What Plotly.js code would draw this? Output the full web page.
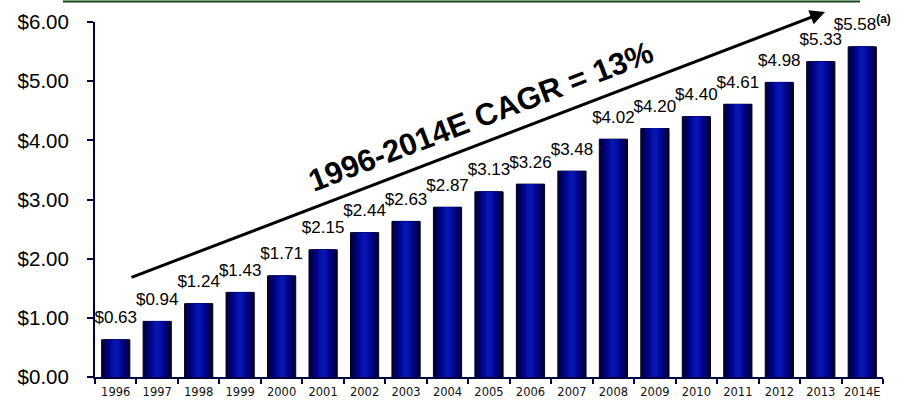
<!DOCTYPE html>
<html>
<head>
<meta charset="utf-8">
<script src="https://cdn.plot.ly/plotly-3.0.1.min.js"></script>
<style>html,body{margin:0;padding:0;background:#fff;}#chart{width:910px;height:404px;}</style>
</head>
<body>
<div id="chart"></div>
<script>
// ---- data ----
const years = ["1996","1997","1998","1999","2000","2001","2002","2003","2004","2005","2006","2007","2008","2009","2010","2011","2012","2013","2014E"];
const values = [0.63,0.94,1.24,1.43,1.71,2.15,2.44,2.63,2.87,3.13,3.26,3.48,4.02,4.20,4.40,4.61,4.98,5.33,5.58];
const valueLabels = ["$0.63","$0.94","$1.24","$1.43","$1.71","$2.15","$2.44","$2.63","$2.87","$3.13","$3.26","$3.48","$4.02","$4.20","$4.40","$4.61","$4.98","$5.33","$5.58<sup><b>(a)</b></sup>"];
const yTickVals = [0,1,2,3,4,5,6];
const yTickText = ["$0.00","$1.00","$2.00","$3.00","$4.00","$5.00","$6.00"];
const cagrText = "1996-2014E CAGR = 13%";

// gradient layers for the bars (outer dark -> inner bright)
const layers = [
  {w:0.68, c:"#00002e"},
  {w:0.62, c:"#000044"},
  {w:0.55, c:"#00005a"},
  {w:0.47, c:"#000070"},
  {w:0.39, c:"#000484"},
  {w:0.30, c:"#000896"},
  {w:0.20, c:"#0410a6"},
  {w:0.10, c:"#0816b0"}
];

const traces = layers.map((L, i) => ({
  type: "bar",
  x: years,
  y: values,
  width: L.w,
  marker: {color: L.c, line: {color: i === 0 ? "#000020" : L.c, width: i === 0 ? 1 : 0}},
  hoverinfo: "skip",
  showlegend: false
}));

traces.push({
  type: "scatter",
  mode: "markers+text",
  x: years,
  y: values,
  text: valueLabels,
  textposition: "top center",
  textfont: {family: "Liberation Sans Narrow, Arial Narrow, Liberation Sans, Arial, sans-serif", size: 17, color: "#000"},
  marker: {size: 18, opacity: 0},
  cliponaxis: false,
  hoverinfo: "skip",
  showlegend: false
});

const layout = {
  width: 910, height: 404,
  margin: {l: 95, r: 27, t: 22, b: 27},
  paper_bgcolor: "#ffffff",
  plot_bgcolor: "#ffffff",
  barmode: "overlay",
  showlegend: false,
  xaxis: {
    type: "category",
    range: [-0.5, years.length - 0.5],
    autorange: false,
    showgrid: false,
    zeroline: false,
    showline: true,
    linecolor: "#000040",
    linewidth: 2,
    ticks: "outside",
    tickson: "boundaries",
    ticklen: 5,
    tickwidth: 2,
    tickcolor: "#000040",
    tickangle: 0,
    ticklabelstandoff: 3,
    tickfont: {family: "DejaVu Sans, Verdana, sans-serif", size: 11.5, color: "#111"},
    fixedrange: true
  },
  yaxis: {
    range: [0, 6],
    autorange: false,
    tickvals: yTickVals,
    ticktext: yTickText,
    showgrid: false,
    zeroline: false,
    showline: true,
    linecolor: "#000040",
    linewidth: 2,
    ticks: "outside",
    ticklen: 6,
    tickwidth: 2,
    tickcolor: "#000040",
    ticklabelstandoff: 14,
    tickfont: {family: "Liberation Sans, Arial, sans-serif", size: 20.5, color: "#000"},
    fixedrange: true
  },
  shapes: [
    {type: "line", xref: "paper", yref: "paper", x0: (63-95)/788, x1: (860-95)/788, y0: (377-1.5)/355, y1: (377-1.5)/355,
     line: {color: "#174417", width: 2}}
  ],
  annotations: [
    {xref: "paper", yref: "paper", axref: "paper", ayref: "paper",
     x: (825-95)/788, y: (377-12)/355, ax: (130-95)/788, ay: (377-278)/355,
     text: "", showarrow: true, arrowhead: 2, arrowsize: 1, arrowwidth: 3, arrowcolor: "#000", standoff: 0},
    {xref: "paper", yref: "paper", x: (481-95)/788, y: (377-117)/355, xanchor: "center", yanchor: "middle",
     text: "<b>" + cagrText + "</b>", showarrow: false, textangle: -21,
     font: {family: "Liberation Sans, Arial, sans-serif", size: 31, color: "#000"}}
  ]
};

Plotly.newPlot("chart", traces, layout, {displayModeBar: false, staticPlot: true});
</script>
</body>
</html>
